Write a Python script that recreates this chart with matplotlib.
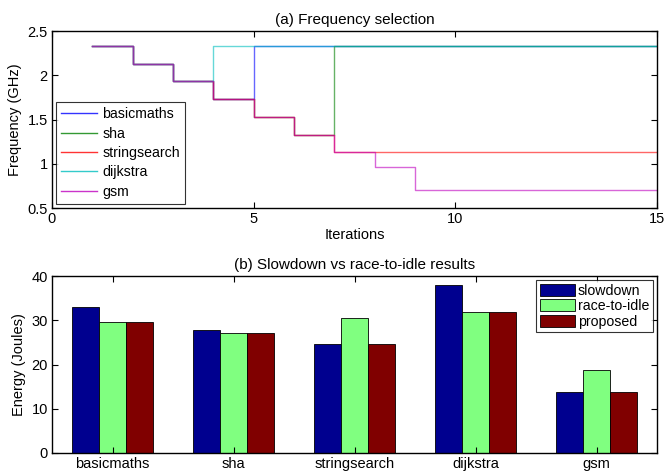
import matplotlib
matplotlib.use("Agg")
import matplotlib.pyplot as plt
import numpy as np

plt.rcParams['font.family'] = ['Liberation Sans', 'DejaVu Sans']

iterations = list(range(1, 16))
freq_series = {
    'basicmaths':   [2.33, 2.13, 1.93, 1.73, 2.33, 2.33, 2.33, 2.33, 2.33, 2.33, 2.33, 2.33, 2.33, 2.33, 2.33],
    'sha':          [2.33, 2.13, 1.93, 1.73, 1.53, 1.33, 2.33, 2.33, 2.33, 2.33, 2.33, 2.33, 2.33, 2.33, 2.33],
    'stringsearch': [2.33, 2.13, 1.93, 1.73, 1.53, 1.33, 1.13, 1.13, 1.13, 1.13, 1.13, 1.13, 1.13, 1.13, 1.13],
    'dijkstra':     [2.33, 2.13, 1.93, 2.33, 2.33, 2.33, 2.33, 2.33, 2.33, 2.33, 2.33, 2.33, 2.33, 2.33, 2.33],
    'gsm':          [2.33, 2.13, 1.93, 1.73, 1.53, 1.33, 1.13, 0.96, 0.70, 0.70, 0.70, 0.70, 0.70, 0.70, 0.70],
}
line_colors = ['#0000ff', '#008000', '#ff0000', '#00bfbf', '#bf00bf']

benchmarks = ['basicmaths', 'sha', 'stringsearch', 'dijkstra', 'gsm']
slowdown = [33.0, 27.7, 24.6, 38.0, 13.7]
race_to_idle = [29.5, 27.2, 30.5, 31.8, 18.7]
proposed = [29.5, 27.2, 24.6, 31.8, 13.7]
bar_colors = ['#00008f', '#80ff80', '#800000']

fig = plt.figure(figsize=(6.65, 4.75), dpi=100)
W, H = 665, 475
FS = 10.5

# Top axes
ax1 = fig.add_axes([52 / W, 1 - 208 / H, 605 / W, 177 / H])
for (name, vals), c in zip(freq_series.items(), line_colors):
    ax1.step(iterations, vals, where='post', color=c, lw=1.0, alpha=0.6, label=name)
ax1.set_xlim(0, 15)
ax1.set_ylim(0.5, 2.5)
ax1.set_xticks([0, 5, 10, 15])
ax1.set_yticks([0.5, 1, 1.5, 2, 2.5])
ax1.set_yticklabels(['0.5', '1', '1.5', '2', '2.5'])
ax1.set_xlabel('Iterations', fontsize=FS, labelpad=1)
ax1.set_ylabel('Frequency (GHz)', fontsize=FS, labelpad=4)
ax1.set_title('(a) Frequency selection', fontsize=11, pad=5)
leg = ax1.legend(loc='lower left', fontsize=10.2, frameon=True, fancybox=False,
                 edgecolor='black', handlelength=2.5, borderaxespad=0.3,
                 labelspacing=0.38, handletextpad=0.4, borderpad=0.35)
leg.get_frame().set_linewidth(0.8)
for lh in leg.get_lines():
    lh.set_alpha(0.8)

# Bottom axes
ax2 = fig.add_axes([52 / W, 1 - 453 / H, 605 / W, 177 / H])
x = np.arange(1, len(benchmarks) + 1)
bw = 0.222
for i, (vals, lab, c) in enumerate(zip([slowdown, race_to_idle, proposed],
                                      ['slowdown', 'race-to-idle', 'proposed'], bar_colors)):
    ax2.bar(x + (i - 1) * bw, vals, width=bw, color=c, edgecolor='black',
            linewidth=0.6, label=lab)
ax2.set_xlim(0.5, 5.5)
ax2.set_ylim(0, 40)
ax2.set_xticks(x)
ax2.set_xticklabels(benchmarks)
ax2.set_yticks([0, 10, 20, 30, 40])
ax2.set_ylabel('Energy (Joules)', fontsize=FS, labelpad=4)
ax2.set_title('(b) Slowdown vs race-to-idle results', fontsize=11, pad=5)
leg2 = ax2.legend(loc='upper right', fontsize=10.2, frameon=True, fancybox=False,
                  edgecolor='black', handlelength=2.5, handleheight=0.95,
                  borderaxespad=0.3, labelspacing=0.1, handletextpad=0.2,
                  borderpad=0.25)
leg2.get_frame().set_linewidth(0.8)

for ax in (ax1, ax2):
    ax.tick_params(direction='in', top=True, right=True, labelsize=FS,
                   length=4, width=0.8, pad=3)
    for s in ax.spines.values():
        s.set_linewidth(1.0)

fig.savefig('out.png', dpi=100)
